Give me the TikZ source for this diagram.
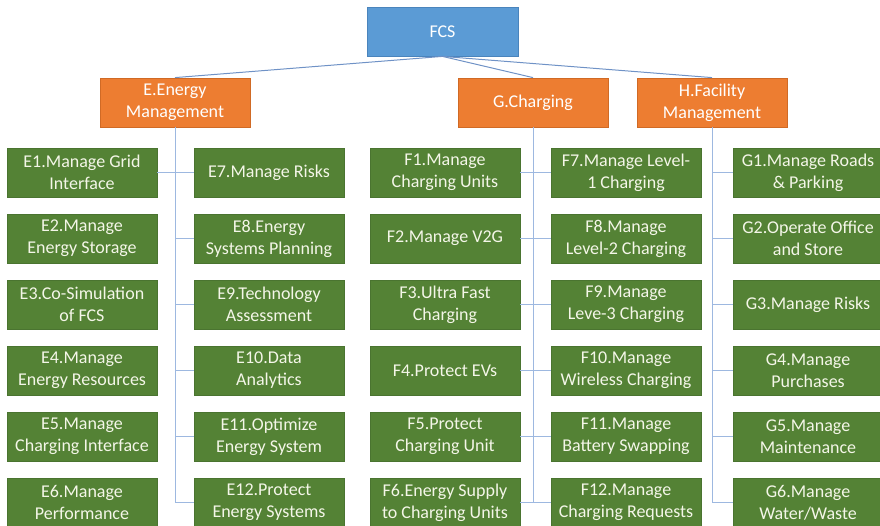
\documentclass[tikz,border=0pt]{standalone}
\usepackage{fontspec}
\setmainfont{Carlito}
\definecolor{rootfill}{HTML}{5B9BD5}
\definecolor{rootline}{HTML}{4A84BC}
\definecolor{headfill}{HTML}{ED7D31}
\definecolor{headline}{HTML}{D06A25}
\definecolor{leaffill}{HTML}{548235}
\definecolor{leafline}{HTML}{4A7430}
\definecolor{leaftext}{HTML}{F4F6E8}
\definecolor{treeline}{HTML}{6F92C6}
\definecolor{branchline}{HTML}{9DB8E0}
\tikzset{
  box/.style={minimum width=150pt, minimum height=49pt, inner sep=0pt,
    align=center, font=\fontsize{18}{22}\selectfont, line width=0.8pt},
  rootbox/.style={box, minimum width=151pt, fill=rootfill, draw=rootline, text=white},
  headbox/.style={box, fill=headfill, draw=headline, text=white},
  leafbox/.style={box, fill=leaffill, draw=leafline, text=leaftext},
  toplink/.style={draw=treeline, line width=1pt},
  link/.style={draw=branchline, line width=1pt},
}
\begin{document}
\begin{tikzpicture}[x=1pt, y=-1pt]
\useasboundingbox (0,0) rectangle (880,525);
\clip (0,0) rectangle (880,525);

% root and the three function groups
\node[rootbox] (FCS) at (442.5,31.5) {FCS};
\node[headbox] (E) at (175,102.5) {E.Energy\\Management};
\node[headbox] (G) at (533,102.5) {G.Charging};
\node[headbox] (H) at (712,102.5) {H.Facility\\Management};

% energy management functions
\node[leafbox] (E1) at (82,172.5) {E1.Manage Grid\\Interface};
\node[leafbox] (E2) at (82,238.5) {E2.Manage\\Energy Storage};
\node[leafbox] (E3) at (82,304.5) {E3.Co-Simulation\\of FCS};
\node[leafbox] (E4) at (82,370.5) {E4.Manage\\Energy Resources};
\node[leafbox] (E5) at (82,436.5) {E5.Manage\\Charging Interface};
\node[leafbox] (E6) at (82,502.5) {E6.Manage\\Performance};
\node[leafbox] (E7) at (269,172.5) {E7.Manage Risks};
\node[leafbox] (E8) at (269,238.5) {E8.Energy\\Systems Planning};
\node[leafbox] (E9) at (269,304.5) {E9.Technology\\Assessment};
\node[leafbox] (E10) at (269,370.5) {E10.Data\\Analytics};
\node[leafbox] (E11) at (269,436.5) {E11.Optimize\\Energy System};
\node[leafbox] (E12) at (269,502.5) {E12.Protect\\Energy Systems};

% charging functions
\node[leafbox] (F1) at (445,172.5) {F1.Manage\\Charging Units};
\node[leafbox] (F2) at (445,238.5) {F2.Manage V2G};
\node[leafbox] (F3) at (445,304.5) {F3.Ultra Fast\\Charging};
\node[leafbox] (F4) at (445,370.5) {F4.Protect EVs};
\node[leafbox] (F5) at (445,436.5) {F5.Protect\\Charging Unit};
\node[leafbox] (F6) at (445,502.5) {F6.Energy Supply\\to Charging Units};
\node[leafbox] (F7) at (626,172.5) {F7.Manage Level-\\1 Charging};
\node[leafbox] (F8) at (626,238.5) {F8.Manage\\Level-2 Charging};
\node[leafbox] (F9) at (626,304.5) {F9.Manage\\Leve-3 Charging};
\node[leafbox] (F10) at (626,370.5) {F10.Manage\\Wireless Charging};
\node[leafbox] (F11) at (626,436.5) {F11.Manage\\Battery Swapping};
\node[leafbox] (F12) at (626,502.5) {F12.Manage\\Charging Requests};

% facility management functions
\node[leafbox] (G1) at (808,172.5) {G1.Manage Roads\\\& Parking};
\node[leafbox] (G2) at (808,238.5) {G2.Operate Office\\and Store};
\node[leafbox] (G3) at (808,304.5) {G3.Manage Risks};
\node[leafbox] (G4) at (808,370.5) {G4.Manage\\Purchases};
\node[leafbox] (G5) at (808,436.5) {G5.Manage\\Maintenance};
\node[leafbox] (G6) at (808,502.5) {G6.Manage\\Water/Waste};

% links from the root
\draw[toplink] (FCS.south) -- (E.north);
\draw[toplink] (FCS.south) -- (G.north);
\draw[toplink] (FCS.south) -- (H.north);

% energy management tree
\draw[link] (E.south) -- (E.south |- E12.west) -- (E12.west);
\draw[link] (E1.east) -- (E7.west);
\foreach \n in {E8,E9,E10,E11}
  \draw[link] (E.south |- \n.west) -- (\n.west);

% charging tree
\draw[link] (G.south) -- (G.south |- F12.west);
\draw[link] (F1.east) -- (F7.west);
\draw[link] (F2.east) -- (F8.west);
\draw[link] (F3.east) -- (F9.west);
\draw[link] (F4.east) -- (F10.west);
\draw[link] (F5.east) -- (F11.west);
\draw[link] (F6.east) -- (F12.west);

% facility management tree
\draw[link] (H.south) -- (H.south |- G6.west) -- (G6.west);
\foreach \n in {G1,G2,G3,G4,G5}
  \draw[link] (H.south |- \n.west) -- (\n.west);
\end{tikzpicture}
\end{document}
